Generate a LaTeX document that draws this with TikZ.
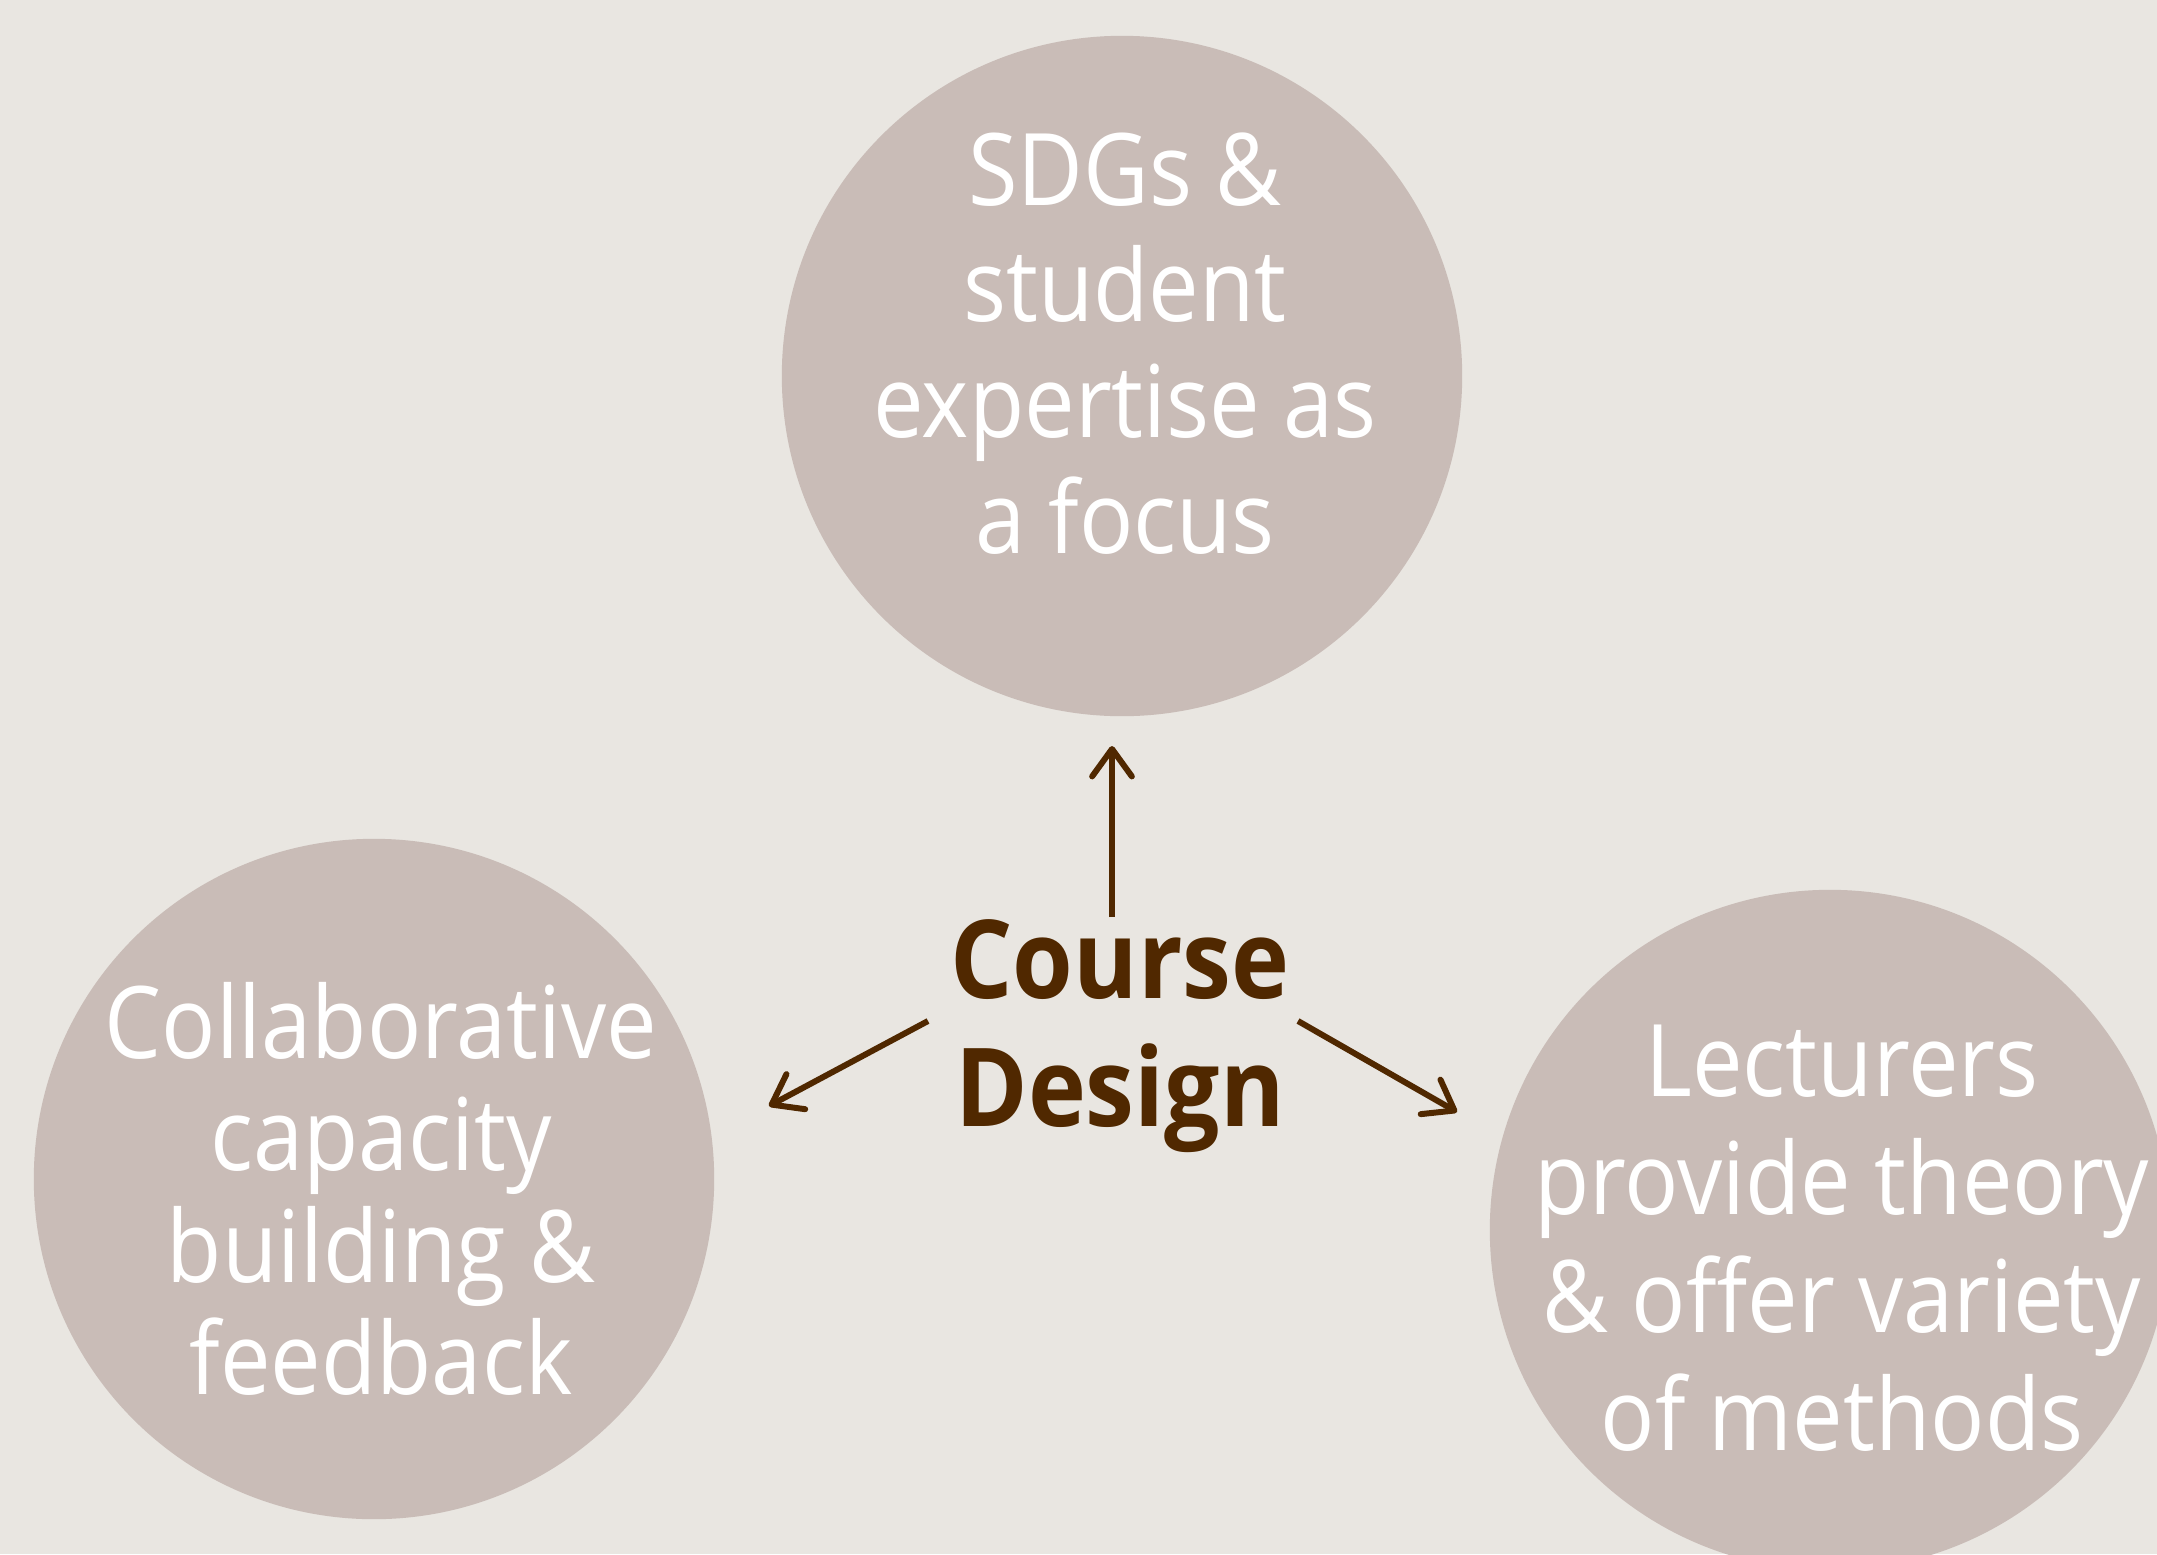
\documentclass[tikz,border=0pt]{standalone}
\usepackage{fontspec}
\setmainfont{Open Sans}[FakeStretch=0.9]
\usetikzlibrary{arrows.meta}
\definecolor{bgcol}{RGB}{233,230,225}
\definecolor{circcol}{RGB}{201,188,183}
\definecolor{browncol}{RGB}{80,40,0}
\tikzset{
  bubble/.style={circle, fill=circcol, draw=none, minimum size=6.8cm, inner sep=0pt},
  bubbletext/.style={text=white, align=center, inner sep=0pt, font=\fontsize{28.5}{#1}\selectfont},
  bubbletext/.default=33.5,
  centertext/.style={text=browncol, align=center, inner sep=0pt, font=\fontsize{31}{36.4}\selectfont\bfseries},
  link/.style={draw=browncol, line width=1.7pt, -{Straight Barb[length=7.8pt,width=11.3pt,round]}}
}
\begin{document}
\begin{tikzpicture}[x=0.01cm, y=-0.01cm]
\clip (0,0) rectangle (2157,1554);
\fill[bgcol] (0,0) rectangle (2157,1554);
\node[bubble] (top) at (1122,376) {};
\node[bubble] (left) at (374,1179) {};
\node[bubble] (right) at (1830,1230) {};
\node[bubbletext=33.0] (toptext) at (1125,344) {SDGs \&\\student\\expertise as\\a focus};
\node[bubbletext=31.9] (lefttext) at (381,1189) {Collaborative\\capacity\\building \&\\feedback};
\node[bubbletext=33.5] (righttext) at (1842,1238) {Lecturers\\provide theory\\\& offer variety\\of methods};
\node[centertext] (cd) at (1120,1036) {Course\\Design};
\coordinate (upstart) at (1112,917);
\coordinate (upend) at (1112,746);
\coordinate (lstart) at (928,1021);
\coordinate (lend) at (769,1106);
\coordinate (rstart) at (1298,1021);
\coordinate (rend) at (1457,1112);
\draw[link] (upstart) -- (upend);
\draw[link] (lstart) -- (lend);
\draw[link] (rstart) -- (rend);
\end{tikzpicture}
\end{document}
